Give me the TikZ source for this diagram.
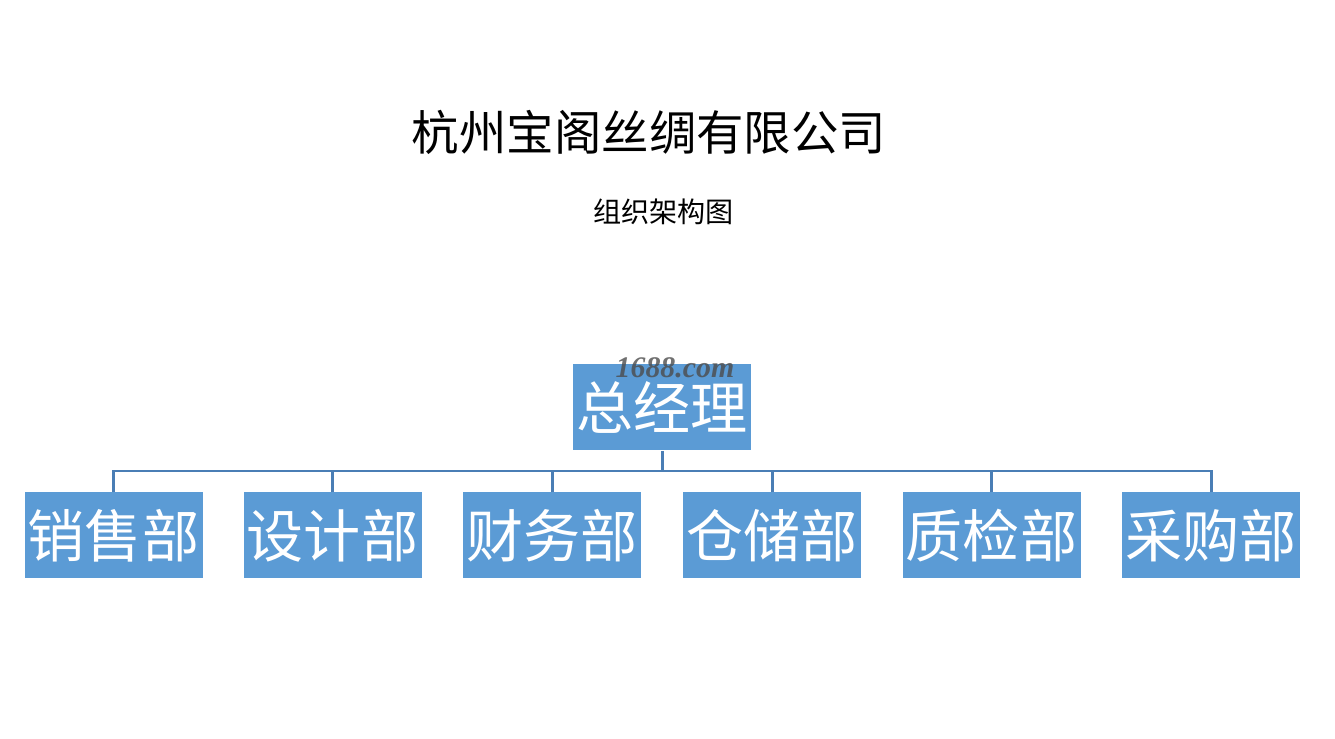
\documentclass[tikz,border=0pt]{standalone}
\usepackage{fontspec}
\newfontfamily\cjk{Noto Sans CJK SC}
\newfontfamily\wmfont{Liberation Serif}
\definecolor{boxblue}{HTML}{5B9BD5}
\definecolor{lineblue}{HTML}{4A7EB5}
\tikzset{
  dept/.style={fill=boxblue, text=white, inner sep=0pt, minimum width=3.56cm,
    minimum height=1.72cm, font=\cjk\fontsize{32.5}{32.5}\selectfont},
  link/.style={draw=lineblue, line width=1.7pt}
}

\begin{document}
\begin{tikzpicture}
  \useasboundingbox (0,0) rectangle (26.7,14.78);

  \node (title) at (12.98,12.14) {\cjk\fontsize{27}{27}\selectfont 杭州宝阁丝绸有限公司};
  \node (sub) at (13.27,10.54) {\cjk\fontsize{16}{16}\selectfont 组织架构图};

  \node[dept] (n0) at (13.24,6.63) {总经理};
  \node[text=black!70, opacity=0.8, font=\wmfont\bfseries\itshape\fontsize{17}{17}\selectfont] (wm) at (13.5,7.43) {1688.com};

  \node[dept] (n1) at (2.27,4.07) {销售部};
  \node[dept] (n2) at (6.65,4.07) {设计部};
  \node[dept] (n3) at (11.04,4.07) {财务部};
  \node[dept] (n4) at (15.44,4.07) {仓储部};
  \node[dept] (n5) at (19.83,4.07) {质检部};
  \node[dept] (n6) at (24.22,4.07) {采购部};

  \coordinate (j0) at (13.24,5.36);

  \draw[link] (n0.south) -- (j0);
  \foreach \n in {n1,n2,n3,n4,n5,n6}
    \draw[link] (\n.north) |- (j0);
\end{tikzpicture}
\end{document}
